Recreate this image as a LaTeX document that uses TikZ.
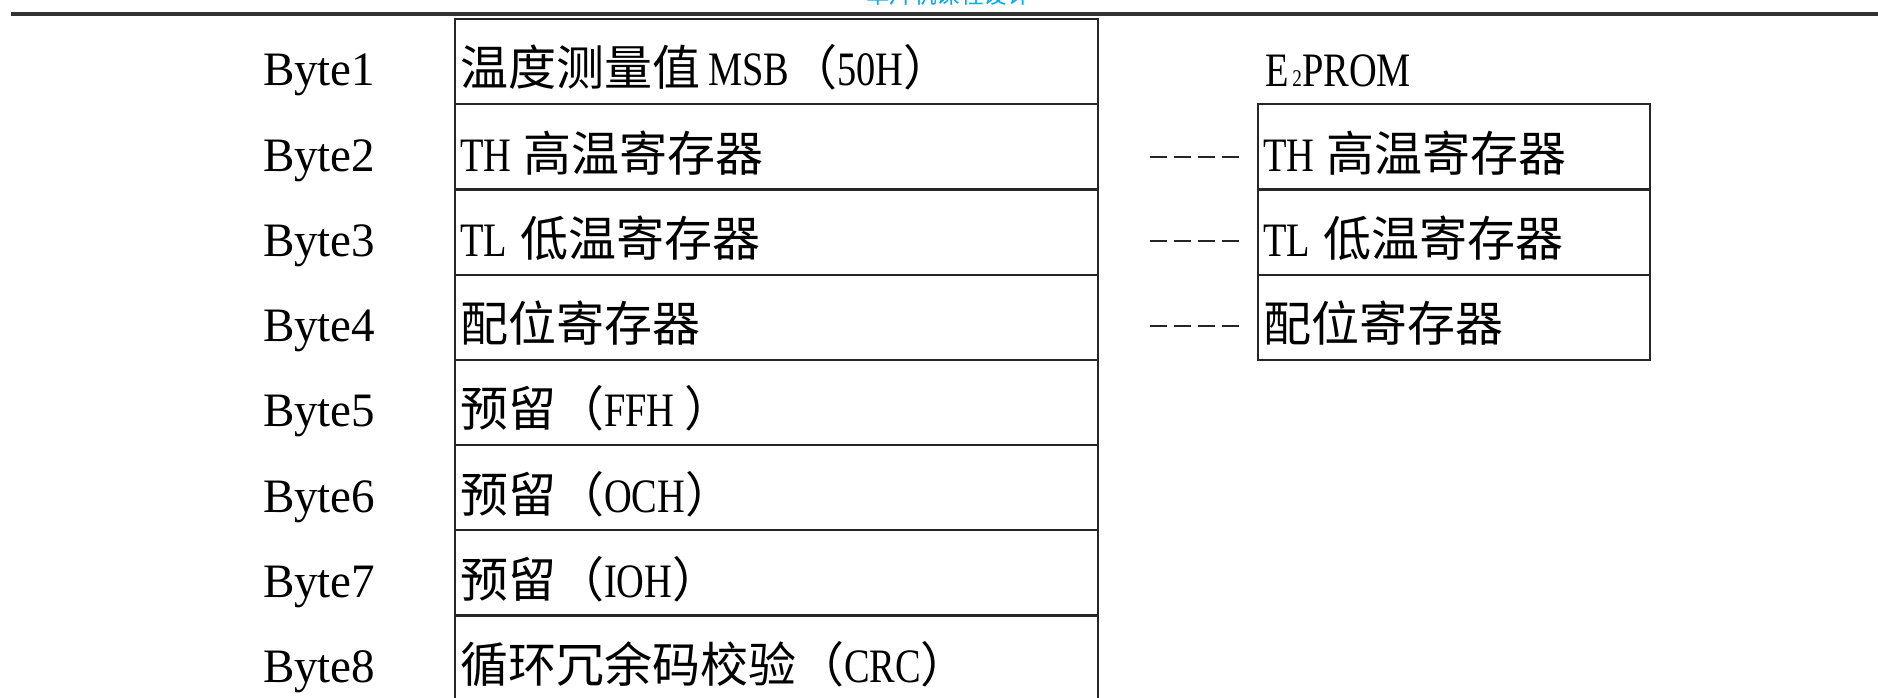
\documentclass[tikz,border=0pt]{standalone}
\usepackage{fontspec}
\setmainfont{Liberation Serif}[FakeStretch=0.8]
\newfontfamily\cjk{Noto Sans CJK SC}
\newfontfamily\bytefont{Liberation Serif}[FakeStretch=0.98]
\newcommand\zh[1]{{\cjk #1}}
\tikzset{
  cell/.style={draw=black!85, line width=2.2pt, minimum width=643pt, minimum height=85.2pt, inner sep=0pt, outer sep=0pt, anchor=north west},
  ecell/.style={cell, minimum width=392pt},
  txt/.style={anchor=base west, inner sep=0pt, outer sep=0pt, font=\fontsize{48}{50}\selectfont},
  bytelab/.style={txt, font=\bytefont\fontsize{48}{50}\selectfont},
  dashline/.style={draw=black!85, line width=1.8pt, dash pattern=on 17pt off 7pt, shorten >=18pt},
  rule/.style={draw=black!80, line width=3.5pt},
  hdr/.style={anchor=base west, inner sep=0pt, text=cyan, font=\cjk\fontsize{23.5}{24}\selectfont}
}
\begin{document}
\begin{tikzpicture}[x=1pt,y=-1pt]
\useasboundingbox (0,0) rectangle (1878,698);
\begin{scope}
\clip (0,0) rectangle (1878,698);
% header
\node[hdr] (head) at (866,4) {单片机课程设计};
\coordinate (r1) at (11,14);
\coordinate (r2) at (1878,14);
\draw[rule] (r1) -- (r2);
% main table
\node[cell] (m1) at (455,19) {};
\node[cell] (m2) at (455,104.2) {};
\node[cell] (m3) at (455,189.4) {};
\node[cell] (m4) at (455,274.6) {};
\node[cell] (m5) at (455,359.8) {};
\node[cell] (m6) at (455,445) {};
\node[cell] (m7) at (455,530.2) {};
\node[cell] (m8) at (455,615.4) {};
\node[txt] (t1) at ([xshift=5pt,yshift=18.2pt]m1.south west) {\zh{温度测量值}\hspace{8pt}MSB\zh{（}50H\zh{）}};
\node[txt] (t2) at ([xshift=5pt,yshift=18.2pt]m2.south west) {TH\hspace{12pt}\zh{高温寄存器}};
\node[txt] (t3) at ([xshift=5pt,yshift=18.2pt]m3.south west) {TL\hspace{14pt}\zh{低温寄存器}};
\node[txt] (t4) at ([xshift=5pt,yshift=18.2pt]m4.south west) {\zh{配位寄存器}};
\node[txt] (t5) at ([xshift=5pt,yshift=18.2pt]m5.south west) {\zh{预留（}FFH\ \zh{）}};
\node[txt] (t6) at ([xshift=5pt,yshift=18.2pt]m6.south west) {\zh{预留（}OCH\zh{）}};
\node[txt] (t7) at ([xshift=5pt,yshift=18.2pt]m7.south west) {\zh{预留（}IOH\zh{）}};
\node[txt] (t8) at ([xshift=5pt,yshift=18.2pt]m8.south west) {\zh{循环冗余码校验（}CRC\zh{）}};
% byte labels
\node[bytelab] (b1) at (263,86) {Byte1};
\node[bytelab] (b2) at (263,171.2) {Byte2};
\node[bytelab] (b3) at (263,256.4) {Byte3};
\node[bytelab] (b4) at (263,341.6) {Byte4};
\node[bytelab] (b5) at (263,426.8) {Byte5};
\node[bytelab] (b6) at (263,512) {Byte6};
\node[bytelab] (b7) at (263,597.2) {Byte7};
\node[bytelab] (b8) at (263,682.4) {Byte8};
% E2PROM
\node[txt] (elab) at (1265,87) {E\hspace{4pt}{\fontsize{24}{24}\selectfont 2}PROM};
\node[ecell] (e1) at (1258,104.2) {};
\node[ecell] (e2) at (1258,189.4) {};
\node[ecell] (e3) at (1258,274.6) {};
\node[txt] (et1) at ([xshift=5pt,yshift=18.2pt]e1.south west) {TH\hspace{12pt}\zh{高温寄存器}};
\node[txt] (et2) at ([xshift=5pt,yshift=18.2pt]e2.south west) {TL\hspace{14pt}\zh{低温寄存器}};
\node[txt] (et3) at ([xshift=5pt,yshift=18.2pt]e3.south west) {\zh{配位寄存器}};
\coordinate (d1) at (1150,157);
\coordinate (d2) at (1150,241);
\coordinate (d3) at (1150,326);
\draw[dashline] (d1) -- (d1 -| e1.west);
\draw[dashline] (d2) -- (d2 -| e2.west);
\draw[dashline] (d3) -- (d3 -| e3.west);
\end{scope}
\end{tikzpicture}
\end{document}
